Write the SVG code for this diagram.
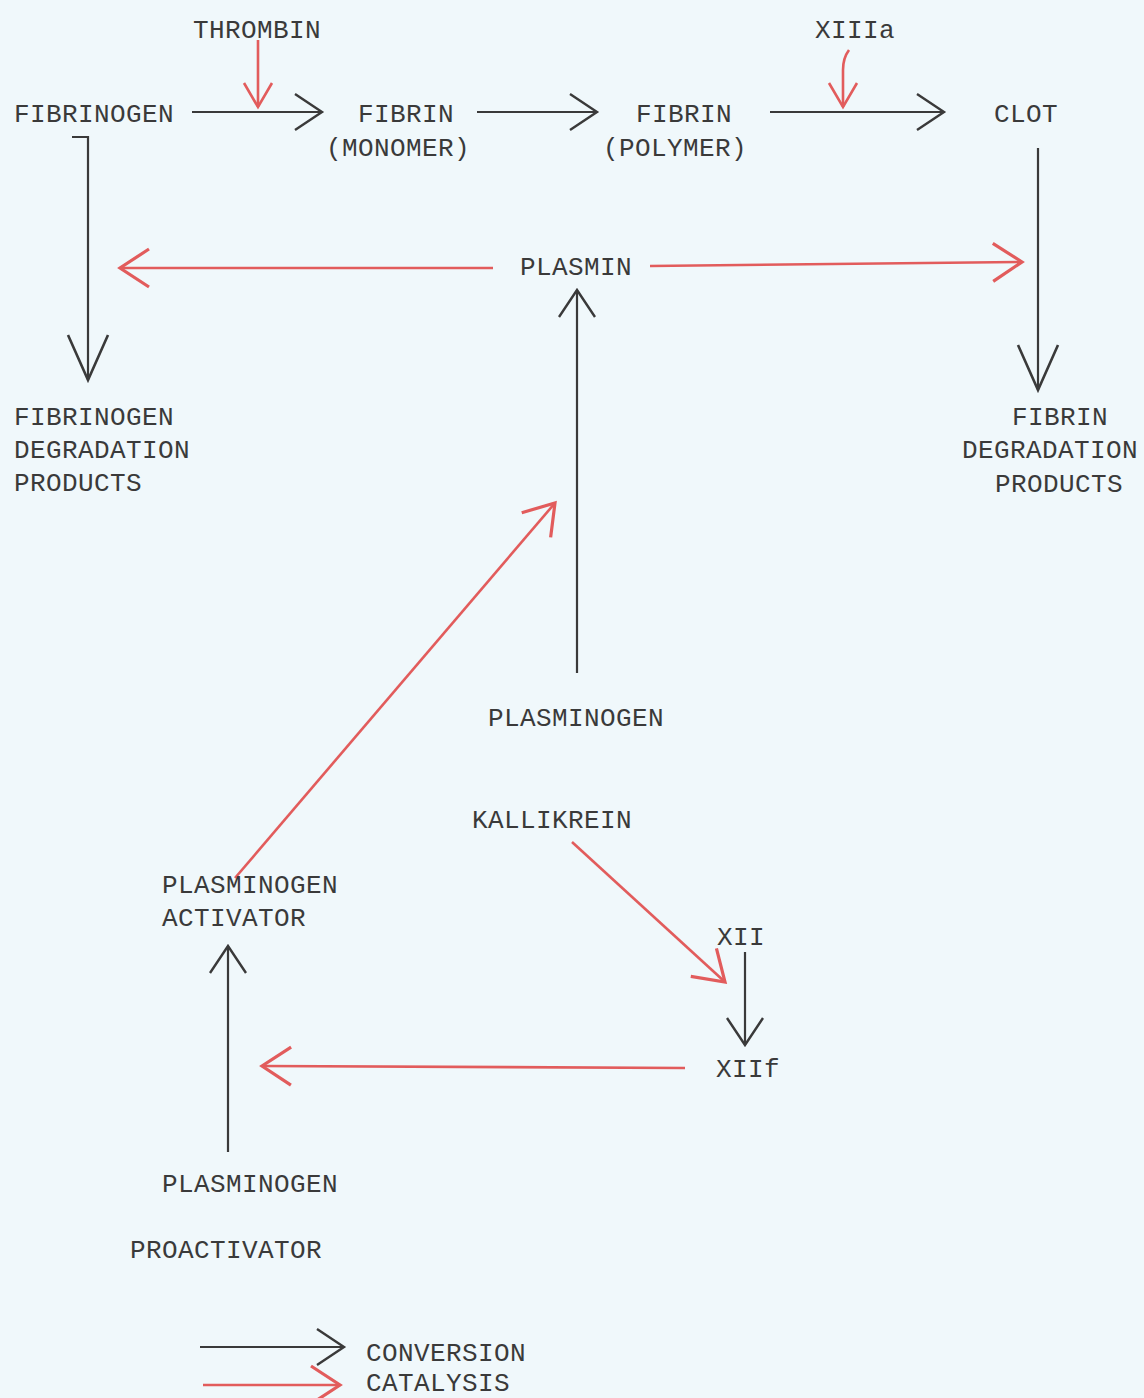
<svg xmlns="http://www.w3.org/2000/svg" width="1144" height="1398" viewBox="0 0 1144 1398">
<defs>
<style>
text{font-family:"Liberation Mono","Courier New",monospace;font-size:26px;fill:#3a3a3a;letter-spacing:0.4px}
.k{stroke:#3a3a3a;stroke-width:2.2;fill:none}
.r{stroke:#e25c5c;stroke-width:2.6;fill:none}
</style>
<marker id="hk" viewBox="-32 -24 36 48" refX="0" refY="0" markerWidth="36" markerHeight="48" markerUnits="userSpaceOnUse" orient="auto">
<path d="M-27,-18 L0,0 L-27,18" fill="none" stroke="#3a3a3a" stroke-width="2.4"/>
</marker>
<marker id="hkb" viewBox="-50 -28 54 56" refX="0" refY="0" markerWidth="54" markerHeight="56" markerUnits="userSpaceOnUse" orient="auto">
<path d="M-45,-20 L0,0 L-45,20" fill="none" stroke="#3a3a3a" stroke-width="2.6"/>
</marker>
<marker id="hr" viewBox="-34 -24 38 48" refX="0" refY="0" markerWidth="38" markerHeight="48" markerUnits="userSpaceOnUse" orient="auto">
<path d="M-29,-19 L0,0 L-29,19" fill="none" stroke="#e25c5c" stroke-width="3.2"/>
</marker>
<marker id="hrs" viewBox="-28 -20 32 40" refX="0" refY="0" markerWidth="32" markerHeight="40" markerUnits="userSpaceOnUse" orient="auto">
<path d="M-24,-14 L0,0 L-24,14" fill="none" stroke="#e25c5c" stroke-width="2.6"/>
</marker>
</defs>
<rect width="1144" height="1398" fill="#f0f8fb"/>
<g id="connectors">
<line class="k" x1="192" y1="112" x2="322" y2="112" marker-end="url(#hk)"/>
<path class="r" d="M258,40 L258,107" marker-end="url(#hrs)"/>
<line class="k" x1="477" y1="112" x2="597" y2="112" marker-end="url(#hk)"/>
<line class="k" x1="770" y1="112" x2="944" y2="112" marker-end="url(#hk)"/>
<path class="r" d="M849,50 Q843,58 843,70 L843,107" marker-end="url(#hrs)"/>
<path class="k" d="M72,137 L88,137 L88,380" marker-end="url(#hkb)"/>
<line class="k" x1="1038" y1="148" x2="1038" y2="390" marker-end="url(#hkb)"/>
<line class="r" x1="493" y1="268" x2="120" y2="268" marker-end="url(#hr)"/>
<line class="r" x1="650" y1="266" x2="1022" y2="262" marker-end="url(#hr)"/>
<line class="k" x1="577" y1="673" x2="577" y2="290" marker-end="url(#hk)"/>
<line class="r" x1="235" y1="878" x2="555" y2="503" marker-end="url(#hr)"/>
<line class="r" x1="572" y1="842" x2="725" y2="982" marker-end="url(#hr)"/>
<line class="k" x1="745" y1="952" x2="745" y2="1045" marker-end="url(#hk)"/>
<line class="r" x1="685" y1="1068" x2="262" y2="1066" marker-end="url(#hr)"/>
<line class="k" x1="228" y1="1152" x2="228" y2="946" marker-end="url(#hk)"/>
</g>
<g id="thrombin"><text x="193" y="38">THROMBIN</text></g>
<g id="xiiia"><text x="815" y="38">XIIIa</text></g>
<g id="fibrinogen"><text x="14" y="122">FIBRINOGEN</text></g>
<g id="fibrin-monomer"><text x="406" y="122" text-anchor="middle">FIBRIN</text><text x="398" y="156" text-anchor="middle">(MONOMER)</text></g>
<g id="fibrin-polymer"><text x="684" y="122" text-anchor="middle">FIBRIN</text><text x="675" y="156" text-anchor="middle">(POLYMER)</text></g>
<g id="clot"><text x="994" y="122">CLOT</text></g>
<g id="fibrinogen-dp"><text x="14" y="425">FIBRINOGEN</text><text x="14" y="458">DEGRADATION</text><text x="14" y="491">PRODUCTS</text></g>
<g id="fibrin-dp"><text x="1060" y="425" text-anchor="middle">FIBRIN</text><text x="1050" y="458" text-anchor="middle">DEGRADATION</text><text x="1059" y="492" text-anchor="middle">PRODUCTS</text></g>
<g id="plasmin"><text x="520" y="275">PLASMIN</text></g>
<g id="plasminogen"><text x="488" y="726">PLASMINOGEN</text></g>
<g id="kallikrein"><text x="472" y="828">KALLIKREIN</text></g>
<g id="xii"><text x="717" y="945">XII</text></g>
<g id="xiif"><text x="716" y="1077">XIIf</text></g>
<g id="plasminogen-activator"><text x="162" y="893">PLASMINOGEN</text><text x="162" y="926">ACTIVATOR</text></g>
<g id="plasminogen-proactivator"><text x="162" y="1192">PLASMINOGEN</text><text x="130" y="1258">PROACTIVATOR</text></g>
<g id="legend">
<line class="k" x1="200" y1="1347" x2="344" y2="1347" marker-end="url(#hk)"/>
<text x="366" y="1361">CONVERSION</text>
<line class="r" x1="203" y1="1385" x2="340" y2="1385" marker-end="url(#hr)"/>
<text x="366" y="1391">CATALYSIS</text>
</g>
</svg>
